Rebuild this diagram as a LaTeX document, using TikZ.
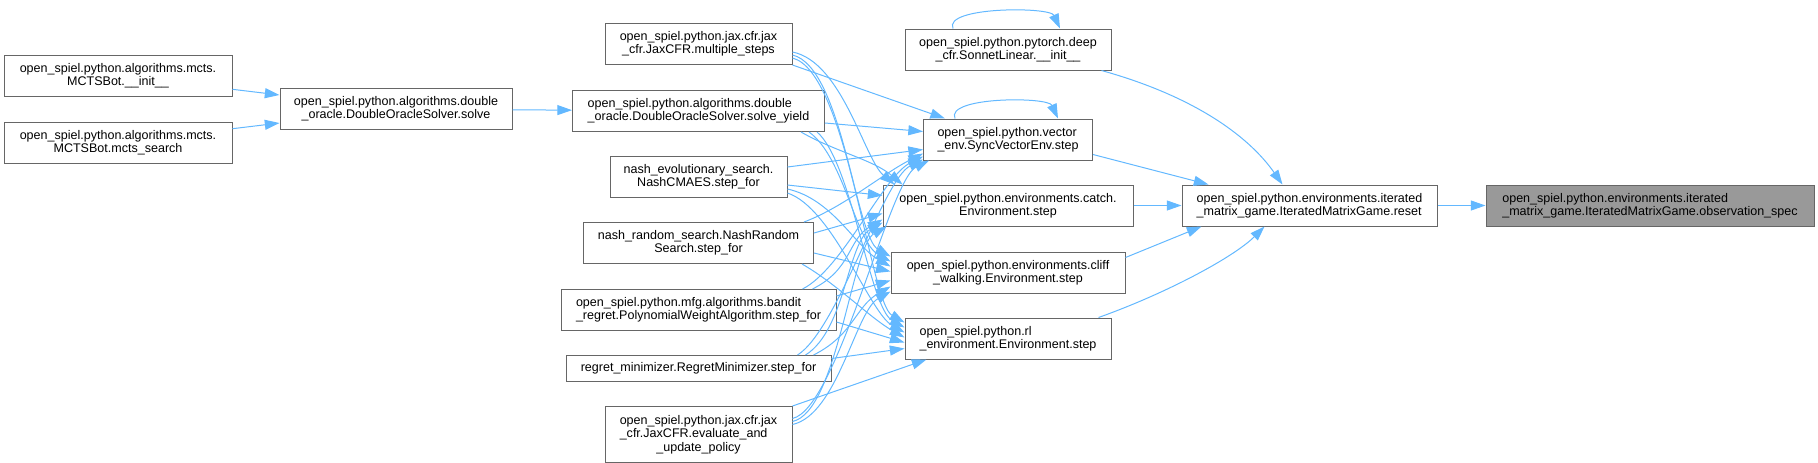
\documentclass[tikz,border=0pt]{standalone}
\usepackage{fontspec}
\setmainfont{Liberation Sans}
\usepackage{calc}
\usepackage{tikz}
\usetikzlibrary{arrows.meta, positioning, calc}
\definecolor{edgeblue}{HTML}{63B8FF}
\definecolor{boxline}{HTML}{666666}
\definecolor{boxgrey}{HTML}{999999}

\begin{document}
\begin{tikzpicture}[
    x=0.75pt, y=-0.75pt,
    fn/.style={rectangle, draw=boxline, fill=white, line width=0.75pt, inner sep=0pt, minimum height=30.75pt, align=center, font=\fontsize{9.4pt}{10pt}\selectfont},
    fnl/.style={fn, align=left},
    focus/.style={fnl, fill=boxgrey},
    call/.style={-{Triangle[length=11pt, width=7.5pt]}, draw=edgeblue, line width=0.75pt},
]
\useasboundingbox (0,0) rectangle (1818,462);

% callers of the solver
\node[fn, minimum width=171pt] (init) at (118,75.5) {open\_spiel.python.algorithms.mcts.\\MCTSBot.\_\_init\_\_};
\node[fn, minimum width=171pt, below=18.75pt of init] (mcts) {open\_spiel.python.algorithms.mcts.\\MCTSBot.mcts\_search};
\node[fn, minimum width=174pt] (solve) at (396,109) {open\_spiel.python.algorithms.double\\\_oracle.DoubleOracleSolver.solve};

% callers of the env steps
\node[fn, minimum width=140.25pt] (ms) at (698.5,44) {open\_spiel.python.jax.cfr.jax\\\_cfr.JaxCFR.multiple\_steps};
\node[fnl, minimum width=189pt, below=18.75pt of ms] (sy) {open\_spiel.python.algorithms.double\\\_oracle.DoubleOracleSolver.solve\_yield};
\node[fn, minimum width=132.75pt, below=18pt of sy] (nc) {nash\_evolutionary\_search.\\NashCMAES.step\_for};
\node[fn, minimum width=172.5pt, below=18pt of nc] (nr) {nash\_random\_search.NashRandom\\Search.step\_for};
\node[fnl, minimum width=206.25pt, below=18.75pt of nr] (pw) {open\_spiel.python.mfg.algorithms.bandit\\\_regret.PolynomialWeightAlgorithm.step\_for};
\node[fn, minimum width=198.75pt, minimum height=19.5pt, below=18pt of pw] (rm) {regret\_minimizer.RegretMinimizer.step\_for};
\node[fnl, minimum width=140.25pt, minimum height=42pt, below=18pt of rm] (ev) {open\_spiel.python.jax.cfr.jax\\\_cfr.JaxCFR.evaluate\_and\\\makebox[\widthof{open\_spiel.python.jax.cfr.jax}]{\_update\_policy}};

% env steps
\node[fn, minimum width=154.5pt] (sl) at (1008,49.5) {open\_spiel.python.pytorch.deep\\\_cfr.SonnetLinear.\_\_init\_\_};
\node[fnl, minimum width=126.75pt, below=36pt of sl] (sv) {open\_spiel.python.vector\\\_env.SyncVectorEnv.step};
\node[fn, minimum width=187.5pt, below=18pt of sv] (ct) {open\_spiel.python.environments.catch.\\Environment.step};
\node[fn, minimum width=175.5pt, below=18.75pt of ct] (cw) {open\_spiel.python.environments.cliff\\\_walking.Environment.step};
\node[fnl, minimum width=154.5pt, below=18pt of cw] (rl) {open\_spiel.python.rl\\\_environment.Environment.step};

\node[fnl, minimum width=191.25pt, right=36pt of ct] (rs) {open\_spiel.python.environments.iterated\\\_matrix\_game.IteratedMatrixGame.reset};
\node[focus, minimum width=246pt, right=36pt of rs] (os) {open\_spiel.python.environments.iterated\\\_matrix\_game.IteratedMatrixGame.observation\_spec};

\draw[call] (init) -- (solve);
\draw[call] (mcts) -- (solve);
\draw[call] (solve) -- (sy);

% multiple_steps
\draw[call] (ms.south east) -- ($(sv.north west)+(22,0)$);
\draw[call] ($(ms.east)+(0,8)$) .. controls +(50,10) and +(-30,-25) .. ($(ct.north west)+(12,0)$);
\draw[call] ($(ms.east)+(0,11)$) .. controls +(50,12) and +(-35,-20) .. ($(cw.west)+(0,-16)$);
\draw[call] ($(ms.east)+(0,14)$) .. controls +(55,14) and +(-35,-20) .. ($(rl.west)+(0,-16)$);
% solve_yield
\draw[call] ($(sy.east)+(0,12)$) -- ($(sv.west)+(0,-8)$);
\draw[call] ($(sy.south east)+(-24,0)$) .. controls +(35,20) and +(-30,-25) .. ($(ct.north west)+(20,0)$);
\draw[call] ($(sy.south east)+(-16,0)$) .. controls +(35,25) and +(-35,-20) .. ($(cw.west)+(0,-11)$);
\draw[call] ($(sy.south east)+(-8,0)$) .. controls +(35,30) and +(-35,-20) .. ($(rl.west)+(0,-11)$);
% NashCMAES
\draw[call] ($(nc.east)+(0,-10)$) -- ($(sv.west)+(0,10)$);
\draw[call] ($(nc.east)+(0,8)$) -- ($(ct.west)+(0,-10)$);
\draw[call] ($(nc.east)+(0,12)$) .. controls +(45,10) and +(-35,-20) .. ($(cw.west)+(0,-6)$);
\draw[call] ($(nc.east)+(0,16)$) .. controls +(45,15) and +(-35,-20) .. ($(rl.west)+(0,-6)$);
% NashRandom
\draw[call] ($(nr.north east)+(-10,0)$) .. controls +(40,-15) and +(-40,20) .. ($(sv.west)+(0,14)$);
\draw[call] ($(nr.east)+(0,-10)$) -- ($(ct.west)+(0,8)$);
\draw[call] ($(nr.east)+(0,10)$) -- ($(cw.west)+(0,-1)$);
\draw[call] ($(nr.south east)+(-12,0)$) .. controls +(35,20) and +(-35,-20) .. ($(rl.west)+(0,-1)$);
% PolynomialWeight
\draw[call] ($(pw.north east)+(-34,0)$) .. controls +(40,-20) and +(-40,20) .. ($(sv.west)+(0,17)$);
\draw[call] ($(pw.north east)+(-24,0)$) .. controls +(40,-20) and +(-35,20) .. ($(ct.west)+(0,14)$);
\draw[call] ($(pw.east)+(0,-14)$) -- ($(cw.west)+(0,8)$);
\draw[call] ($(pw.east)+(0,12)$) -- ($(rl.west)+(0,4)$);
% RegretMinimizer
\draw[call] ($(rm.north east)+(-34,0)$) .. controls +(40,-25) and +(-40,20) .. ($(sv.west)+(0,20)$);
\draw[call] ($(rm.north east)+(-26,0)$) .. controls +(40,-25) and +(-35,20) .. ($(ct.west)+(0,17)$);
\draw[call] ($(rm.north east)+(-18,0)$) .. controls +(40,-20) and +(-35,20) .. ($(cw.west)+(0,14)$);
\draw[call] ($(rm.east)+(0,-10)$) -- ($(rl.west)+(0,10)$);
% evaluate_and_update_policy
\draw[call] ($(ev.east)+(0,-16)$) .. controls +(45,-10) and +(-40,20) .. ($(sv.south west)+(6,0)$);
\draw[call] ($(ev.east)+(0,-13)$) .. controls +(45,-10) and +(-35,20) .. ($(ct.south west)+(4,0)$);
\draw[call] ($(ev.east)+(0,-10)$) .. controls +(45,-10) and +(-35,20) .. ($(cw.west)+(0,19)$);
\draw[call] (ev.north east) -- ($(rl.south west)+(22,0)$);

% self calls
\draw[call] ($(sl.north)+(-55,0)$) .. controls +(-10,-22) and +(-10,-22) .. ($(sl.north)+(52,0)$);
\draw[call] ($(sv.north)+(-53,0)$) .. controls +(-10,-22) and +(-10,-22) .. ($(sv.north)+(50,0)$);

% into reset
\draw[call] ($(sl.south east)+(-10,0)$) .. controls +(90,25) and +(-35,-50) .. ($(rs.north)+(-27,0)$);
\draw[call] ($(sv.east)+(0,15)$) -- ($(rs.north west)+(27,0)$);
\draw[call] (ct) -- (rs);
\draw[call] ($(cw.east)+(0,-15)$) -- ($(rs.south west)+(20,0)$);
\draw[call] ($(rl.north east)+(-13,0)$) .. controls +(70,-25) and +(-30,30) .. ($(rs.south)+(-45,0)$);
\draw[call] (rs) -- (os);

\end{tikzpicture}
\end{document}
